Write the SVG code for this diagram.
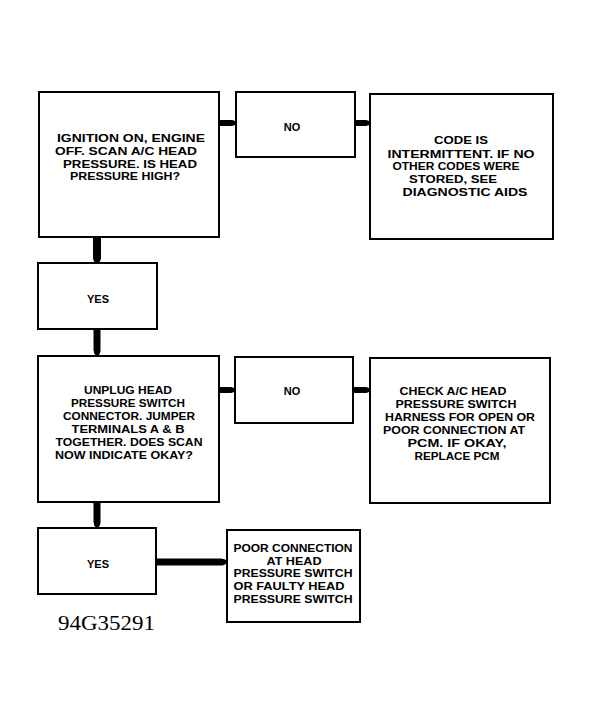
<svg xmlns="http://www.w3.org/2000/svg" width="589" height="702" viewBox="0 0 589 702">
<style>
.box{fill:#fff;stroke:#000;stroke-width:2}
.t{font-family:"Liberation Sans",Arial,sans-serif;font-size:11px;fill:#000;text-anchor:middle;font-weight:bold}
.c{stroke:#000;fill:none;stroke-linecap:butt}
.id{font-family:"Liberation Serif","Times New Roman",serif;font-size:21px;fill:#000}
</style>
<defs>
<marker id="ah" viewBox="0 0 1 1" preserveAspectRatio="none" refX="0" refY="0.5" markerWidth="0.65" markerHeight="1" markerUnits="strokeWidth" orient="auto">
<path d="M0,0 Q1,0.1 1,0.5 Q1,0.9 0,1 Z" fill="#000"/>
</marker>
</defs>
<rect width="589" height="702" fill="#fff"/>
<g id="connectors">
<line class="c" x1="219" y1="123" x2="232" y2="123" stroke-width="6" marker-end="url(#ah)"/>
<line class="c" x1="355" y1="123" x2="366" y2="123" stroke-width="6" marker-end="url(#ah)"/>
<line class="c" x1="97" y1="237" x2="97" y2="258" stroke-width="8" marker-end="url(#ah)"/>
<line class="c" x1="97" y1="329" x2="97" y2="351" stroke-width="7" marker-end="url(#ah)"/>
<line class="c" x1="219" y1="390" x2="231" y2="390" stroke-width="6" marker-end="url(#ah)"/>
<line class="c" x1="353" y1="390" x2="366" y2="390" stroke-width="6" marker-end="url(#ah)"/>
<line class="c" x1="97" y1="502" x2="97" y2="523" stroke-width="7" marker-end="url(#ah)"/>
<line class="c" x1="156" y1="562" x2="222" y2="562" stroke-width="7" marker-end="url(#ah)"/>
</g>
<g id="q1">
<rect class="box" x="39" y="92" width="180" height="145"/>
<text class="t" x="131" y="142" textLength="148" lengthAdjust="spacingAndGlyphs">IGNITION ON, ENGINE</text>
<text class="t" x="126" y="155" textLength="142" lengthAdjust="spacingAndGlyphs">OFF. SCAN A/C HEAD</text>
<text class="t" x="130" y="168" textLength="134" lengthAdjust="spacingAndGlyphs">PRESSURE. IS HEAD</text>
<text class="t" x="125" y="180" textLength="110" lengthAdjust="spacingAndGlyphs">PRESSURE HIGH?</text>
</g>
<g id="no1">
<rect class="box" x="236" y="92" width="119" height="65"/>
<text class="t" x="292" y="131">NO</text>
</g>
<g id="r1">
<rect class="box" x="370" y="94" width="183" height="145"/>
<text class="t" x="461" y="144" textLength="54" lengthAdjust="spacingAndGlyphs">CODE IS</text>
<text class="t" x="461" y="158" textLength="147" lengthAdjust="spacingAndGlyphs">INTERMITTENT. IF NO</text>
<text class="t" x="456" y="170" textLength="127" lengthAdjust="spacingAndGlyphs">OTHER CODES WERE</text>
<text class="t" x="453" y="183" textLength="88" lengthAdjust="spacingAndGlyphs">STORED, SEE</text>
<text class="t" x="465" y="196" textLength="125" lengthAdjust="spacingAndGlyphs">DIAGNOSTIC AIDS</text>
</g>
<g id="yes1">
<rect class="box" x="38" y="263" width="119" height="66"/>
<text class="t" x="98" y="303">YES</text>
</g>
<g id="q2">
<rect class="box" x="38" y="356" width="181" height="146"/>
<text class="t" x="128" y="394" textLength="88" lengthAdjust="spacingAndGlyphs">UNPLUG HEAD</text>
<text class="t" x="128" y="407" textLength="114" lengthAdjust="spacingAndGlyphs">PRESSURE SWITCH</text>
<text class="t" x="129" y="420" textLength="132" lengthAdjust="spacingAndGlyphs">CONNECTOR. JUMPER</text>
<text class="t" x="128" y="433" textLength="113" lengthAdjust="spacingAndGlyphs">TERMINALS A &amp; B</text>
<text class="t" x="129" y="446" textLength="147" lengthAdjust="spacingAndGlyphs">TOGETHER. DOES SCAN</text>
<text class="t" x="124" y="459" textLength="138" lengthAdjust="spacingAndGlyphs">NOW INDICATE OKAY?</text>
</g>
<g id="no2">
<rect class="box" x="235" y="357" width="118" height="66"/>
<text class="t" x="292" y="395">NO</text>
</g>
<g id="r2">
<rect class="box" x="370" y="358" width="180" height="145"/>
<text class="t" x="453" y="395" textLength="107" lengthAdjust="spacingAndGlyphs">CHECK A/C HEAD</text>
<text class="t" x="456" y="408" textLength="121" lengthAdjust="spacingAndGlyphs">PRESSURE SWITCH</text>
<text class="t" x="460" y="421" textLength="150" lengthAdjust="spacingAndGlyphs">HARNESS FOR OPEN OR</text>
<text class="t" x="454" y="434" textLength="142" lengthAdjust="spacingAndGlyphs">POOR CONNECTION AT</text>
<text class="t" x="457" y="447" textLength="99" lengthAdjust="spacingAndGlyphs">PCM. IF OKAY,</text>
<text class="t" x="457" y="460" textLength="85" lengthAdjust="spacingAndGlyphs">REPLACE PCM</text>
</g>
<g id="yes2">
<rect class="box" x="38" y="528" width="118" height="66"/>
<text class="t" x="98" y="568">YES</text>
</g>
<g id="r3">
<rect class="box" x="227" y="530" width="133" height="92"/>
<text class="t" x="293" y="552" textLength="119" lengthAdjust="spacingAndGlyphs">POOR CONNECTION</text>
<text class="t" x="294" y="564.5" textLength="55" lengthAdjust="spacingAndGlyphs">AT HEAD</text>
<text class="t" x="293" y="577" textLength="119" lengthAdjust="spacingAndGlyphs">PRESSURE SWITCH</text>
<text class="t" x="289" y="590" textLength="111" lengthAdjust="spacingAndGlyphs">OR FAULTY HEAD</text>
<text class="t" x="293" y="603" textLength="119" lengthAdjust="spacingAndGlyphs">PRESSURE SWITCH</text>
</g>
<text class="id" x="58" y="630" textLength="97" lengthAdjust="spacingAndGlyphs">94G35291</text>
</svg>
